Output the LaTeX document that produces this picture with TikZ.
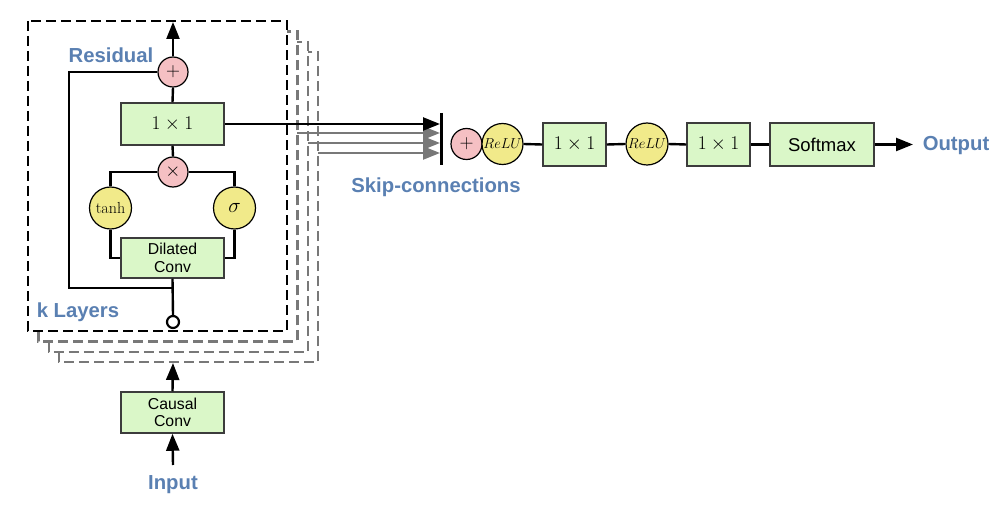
\documentclass[tikz,border=0pt]{standalone}
\usepackage{fix-cm}
\usepackage{fontspec}
\setsansfont{Liberation Sans}
\usetikzlibrary{arrows.meta}
\definecolor{pinkf}{RGB}{245,192,195}
\definecolor{yelf}{RGB}{241,234,138}
\definecolor{grnf}{RGB}{218,247,200}
\definecolor{bluet}{RGB}{90,128,178}
\definecolor{boxd}{RGB}{60,60,60}
\definecolor{grayd}{RGB}{120,120,120}
\begin{document}
\begin{tikzpicture}[x=1bp,y=-1bp,
  conn/.style={line width=2.4bp,black},
  arr/.style={conn,-{Triangle[length=17bp,width=13bp]}},
  garr/.style={line width=2.4bp,grayd,-{Triangle[length=17bp,width=13bp]}},
  opc/.style={circle,draw=black,line width=1.2bp,fill=pinkf,minimum size=30bp,inner sep=0pt},
  actc/.style={circle,draw=black,line width=1.2bp,fill=yelf,minimum size=42bp,inner sep=0pt},
  boxn/.style={rectangle,draw=boxd,line width=1.5bp,fill=grnf,inner sep=0pt,align=center},
  lbl/.style={text=bluet,font=\sffamily\bfseries\fontsize{20.3bp}{24bp}\selectfont,inner sep=0pt},
  frontr/.style={draw=black,line width=2.4bp,dash pattern=on 10bp off 5bp,fill=white},
  backr/.style={draw=grayd,line width=2.3bp,dash pattern=on 10bp off 5bp,fill=white},
  mfont/.style={font=\fontsize{19.4bp}{22bp}\selectfont},
  convf/.style={font=\sffamily\fontsize{15.8bp}{18bp}\selectfont}
]
\useasboundingbox (0,0) rectangle (1007,520);
% stacked layer frames
\draw[backr] (59.2,52.2) rectangle (318.2,362.2);
\draw[backr] (48.8,41.8) rectangle (307.8,351.8);
\draw[backr] (38.4,31.4) rectangle (297.4,341.4);
\draw[frontr] (28,21) rectangle (287,331);
% layer content
\node[opc,mfont] (res) at (173,72) {$+$};
\node[boxn,minimum width=103bp,minimum height=42bp,mfont] (c11) at (172.5,124) {$1\times 1$};
\node[opc,mfont] (mul) at (173,172) {$\times$};
\node[actc,font=\fontsize{16bp}{18bp}\selectfont] (tanh) at (110.5,208) {$\tanh$};
\node[actc,font=\fontsize{21bp}{24bp}\selectfont] (sig) at (234.5,208) {$\sigma$};
\node[boxn,minimum width=103bp,minimum height=40bp,convf] (dil) at (172.5,258) {Dilated\\[-0.5bp]Conv};
\node[circle,draw=black,line width=2.2bp,fill=white,minimum size=12bp,inner sep=0pt] (lin) at (173,322) {};
\node[lbl] (reslbl) at (111,55) {Residual};
\node[lbl] (klbl) at (78,312) {k Layers};
\coordinate (top) at (173,22);
\coordinate (rl) at (69,288);
\coordinate (rj) at (173,288);
\draw[arr] (res.north) -- (top);
\draw[conn] (c11.north) -- (res.south);
\draw[conn] (mul.north) -- (c11.south);
\draw[conn] (tanh.north) |- (mul.west);
\draw[conn] (sig.north) |- (mul.east);
\draw[conn] (tanh.south) |- (dil.west);
\draw[conn] (sig.south) |- (dil.east);
\draw[conn] (lin.north) -- (dil.south);
\draw[conn] (res.west) -| (rl) -- (rj);
% causal conv and input
\node[boxn,minimum width=103bp,minimum height=41bp,convf] (causal) at (172.5,412.5) {Causal\\[-0.5bp]Conv};
\node[lbl] (input) at (173,485) {Input};
\coordinate (cin) at (173,465);
\coordinate (cout) at (173,363);
\draw[arr] (cin) -- (causal.south);
\draw[arr] (causal.north) -- (cout);
% skip connections
\coordinate (t0) at (440,124);
\coordinate (g1s) at (297.4,133);
\coordinate (g1e) at (440,133);
\coordinate (g2s) at (307.8,143);
\coordinate (g2e) at (440,143);
\coordinate (g3s) at (318.2,153);
\coordinate (g3e) at (440,153);
\draw[garr] (g1s) -- (g1e);
\draw[garr] (g2s) -- (g2e);
\draw[garr] (g3s) -- (g3e);
\draw[arr] (c11.east) -- (t0);
\coordinate (bt) at (441.5,113);
\coordinate (bb) at (441.5,165);
\draw[conn] (bt) -- (bb);
\node[lbl] (skip) at (436,187) {Skip-connections};
% output chain
\node[opc,minimum size=31bp,mfont] (splus) at (466.5,144) {$+$};
\node[actc,minimum size=41bp,font=\fontsize{14.4bp}{16bp}\selectfont] (relu1) at (502.5,144) {$ReLU$};
\node[boxn,minimum width=63bp,minimum height=43bp,mfont] (b1) at (574.5,144.5) {$1\times 1$};
\node[actc,font=\fontsize{14.4bp}{16bp}\selectfont] (relu2) at (647,144) {$ReLU$};
\node[boxn,minimum width=63bp,minimum height=43bp,mfont] (b2) at (718.5,144.5) {$1\times 1$};
\node[boxn,minimum width=104bp,minimum height=43bp,font=\sffamily\fontsize{18.5bp}{20bp}\selectfont] (soft) at (822,144.5) {Softmax};
\node[lbl] (out) at (956,146) {Output};
\coordinate (otip) at (913,144.5);
\draw[conn] (relu1.east) -- (b1.west);
\draw[conn] (b1.east) -- (relu2.west);
\draw[conn] (relu2.east) -- (b2.west);
\draw[conn] (b2.east) -- (soft.west);
\draw[arr] (soft.east) -- (otip);
\end{tikzpicture}
\end{document}
